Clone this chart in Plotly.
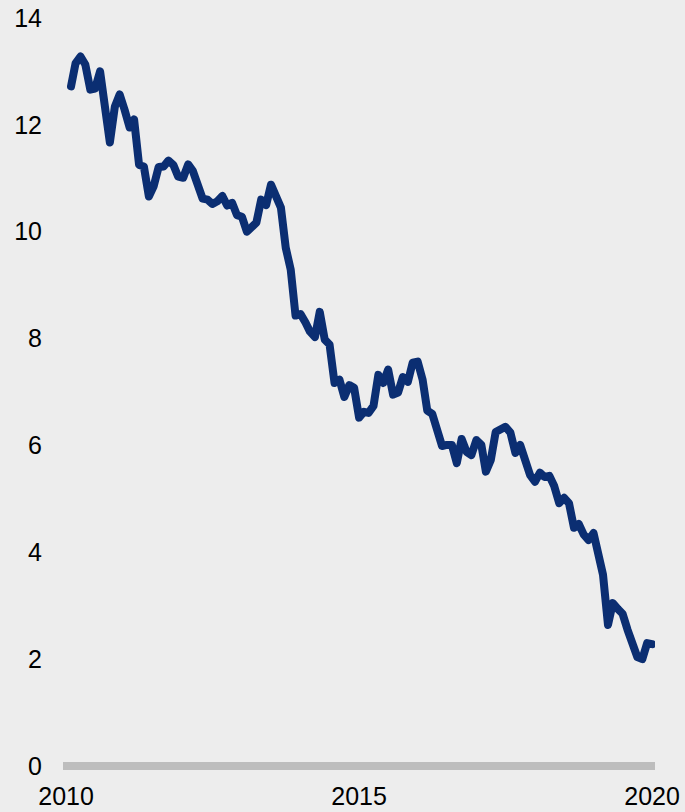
import pandas as pd
import plotly.graph_objects as go

# Monthly values, Feb 2010 - Jan 2020
dates = pd.date_range("2010-02-01", periods=120, freq="MS")
values = [
    12.72, 13.15, 13.28, 13.13, 12.66, 12.68, 13.00, 12.25, 11.67, 12.34,
    12.57, 12.28, 11.95, 12.10, 11.25, 11.22, 10.66, 10.85, 11.21, 11.22,
    11.33, 11.25, 11.03, 11.01, 11.26, 11.14, 10.92, 10.62, 10.60, 10.52,
    10.57, 10.67, 10.49, 10.54, 10.31, 10.28, 10.00, 10.06, 10.17, 10.60,
    10.50, 10.88, 10.66, 10.45, 9.70, 9.29, 8.43, 8.46, 8.30, 8.13,
    8.03, 8.50, 7.98, 7.89, 7.17, 7.23, 6.91, 7.13, 7.08, 6.52,
    6.63, 6.61, 6.74, 7.32, 7.17, 7.42, 6.95, 6.99, 7.28, 7.19,
    7.55, 7.57, 7.23, 6.65, 6.59, 6.29, 5.99, 6.01, 6.01, 5.67,
    6.12, 5.88, 5.82, 6.10, 6.01, 5.51, 5.73, 6.25, 6.29, 6.35,
    6.24, 5.86, 6.01, 5.73, 5.45, 5.32, 5.49, 5.41, 5.43, 5.24,
    4.92, 5.02, 4.92, 4.46, 4.53, 4.33, 4.23, 4.36, 3.86, 3.58,
    2.64, 3.05, 2.94, 2.85, 2.55, 2.28, 2.04, 2.00, 2.30, 2.28,
]

y_ticks = [0, 2, 4, 6, 8, 10, 12, 14]
x_ticks = ["2010-01-01", "2015-01-01", "2020-01-01"]
x_tick_labels = ["2010", "2015", "2020"]

fig = go.Figure()
fig.add_trace(go.Scatter(
    x=dates, y=values, mode="lines",
    line=dict(color="#0b2e72", width=8),
    hoverinfo="skip", showlegend=False,
))

fig.update_layout(
    width=685, height=812,
    margin=dict(l=63, r=30, t=8, b=41),
    paper_bgcolor="#ededed", plot_bgcolor="#ededed",
    font=dict(family="Liberation Sans, Arial, sans-serif", size=25, color="#000000"),
    showlegend=False,
)
fig.update_xaxes(
    range=["2009-12-13", "2020-01-19"],
    tickvals=x_ticks, ticktext=x_tick_labels,
    showgrid=False, zeroline=False, showline=False,
    ticks="", ticklabelstandoff=8, automargin=False,
)
fig.update_yaxes(
    range=[-0.093, 14.187],
    tickvals=y_ticks,
    showgrid=False, showline=False,
    zeroline=True, zerolinecolor="#bdbdbd", zerolinewidth=8,
    ticks="", ticklabelstandoff=20, automargin=False,
)

fig.write_html(
    "out.html",
    config={"displayModeBar": False},
    post_script=(
        "document.body.style.margin='0';document.body.style.overflow='hidden';"
        "document.querySelectorAll('.scatterlayer path.js-line').forEach(function(p){"
        "p.style.strokeLinejoin='round';p.style.strokeLinecap='round';});"
    ),
)
